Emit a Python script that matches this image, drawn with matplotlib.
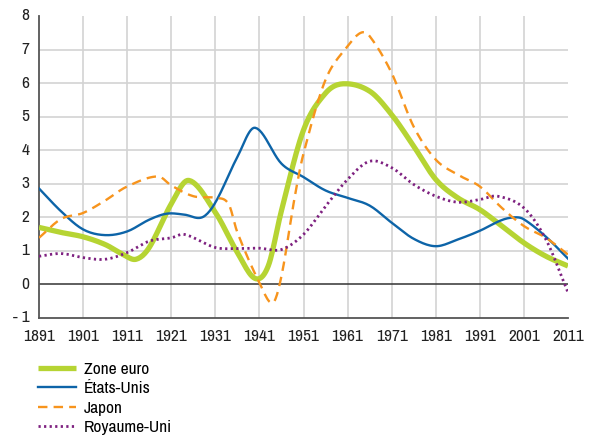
import numpy as np
import matplotlib
matplotlib.use("Agg")
import matplotlib.pyplot as plt
from matplotlib import font_manager

# ---------------- data ----------------
years_ze = [1891, 1896, 1901, 1906, 1910, 1913, 1916, 1921, 1925, 1931, 1936, 1940, 1943,
            1946, 1951, 1956, 1960, 1966, 1971, 1976, 1981, 1986, 1991, 1996, 2001, 2006, 2011]
zone_euro = [1.70, 1.55, 1.42, 1.19, 0.90, 0.75, 1.10, 2.40, 3.10, 2.15, 0.95, 0.18, 0.55,
             2.20, 4.60, 5.70, 5.98, 5.76, 5.06, 4.12, 3.13, 2.58, 2.23, 1.74, 1.24, 0.84, 0.55]

years_us = [1891, 1896, 1901, 1906, 1911, 1916, 1920, 1924, 1928, 1931, 1936, 1940, 1946,
            1951, 1956, 1961, 1966, 1971, 1976, 1981, 1986, 1991, 1996, 1999, 2001, 2006, 2011]
etats_unis = [2.86, 2.18, 1.64, 1.47, 1.58, 1.93, 2.11, 2.08, 2.00, 2.44, 3.80, 4.67, 3.60,
              3.20, 2.80, 2.58, 2.35, 1.84, 1.36, 1.14, 1.34, 1.60, 1.92, 2.00, 1.94, 1.42, 0.77]

years_jp = [1891, 1896, 1901, 1906, 1911, 1918, 1921, 1926, 1931, 1934, 1936, 1941, 1944,
            1946, 1949, 1951, 1956, 1961, 1964, 1966, 1971, 1976, 1981, 1986, 1991, 1996,
            2001, 2006, 2011]
japon = [1.39, 1.95, 2.13, 2.50, 2.92, 3.22, 2.95, 2.63, 2.58, 2.40, 1.55, 0.05, -0.55,
         0.25, 2.60, 3.90, 6.10, 7.10, 7.50, 7.40, 6.30, 4.70, 3.72, 3.27, 2.92, 2.28,
         1.74, 1.39, 0.89]

years_uk = [1891, 1896, 1901, 1906, 1911, 1916, 1921, 1924, 1931, 1936, 1941, 1946, 1951,
            1956, 1961, 1966, 1971, 1976, 1981, 1986, 1991, 1995, 2001, 2006, 2011]
royaume_uni = [0.84, 0.92, 0.80, 0.75, 0.95, 1.29, 1.39, 1.49, 1.10, 1.07, 1.08, 1.04, 1.49,
               2.33, 3.13, 3.67, 3.48, 2.98, 2.63, 2.45, 2.53, 2.63, 2.28, 1.34, -0.24]

x_ticks = list(range(1891, 2012, 10))
y_ticks = list(range(-1, 9))
y_tick_labels = ["- 1", "0", "1", "2", "3", "4", "5", "6", "7", "8"]
labels = ["Zone euro", "États-Unis", "Japon", "Royaume-Uni"]

# ---------------- style ----------------
available = {f.name for f in font_manager.fontManager.ttflist}
fams = [f for f in ["Archivo Narrow", "Roboto Condensed", "PT Sans Narrow"] if f in available]
plt.rcParams["font.family"] = fams[:1] + ["DejaVu Sans"]
FS = 12.5


def smooth(xs, ys, n=12):
    """Draw-time smoothing (cubic Hermite through the given points)."""
    xs = np.asarray(xs, float)
    ys = np.asarray(ys, float)
    m = np.zeros_like(ys)
    m[1:-1] = (ys[2:] - ys[:-2]) / (xs[2:] - xs[:-2])
    m[0] = (ys[1] - ys[0]) / (xs[1] - xs[0])
    m[-1] = (ys[-1] - ys[-2]) / (xs[-1] - xs[-2])
    ox, oy = [], []
    for i in range(len(xs) - 1):
        h = xs[i + 1] - xs[i]
        t = np.linspace(0, 1, n, endpoint=False)
        h00 = 2 * t**3 - 3 * t**2 + 1
        h10 = t**3 - 2 * t**2 + t
        h01 = -2 * t**3 + 3 * t**2
        h11 = t**3 - t**2
        ox.extend(xs[i] + t * h)
        oy.extend(h00 * ys[i] + h10 * h * m[i] + h01 * ys[i + 1] + h11 * h * m[i + 1])
    ox.append(xs[-1])
    oy.append(ys[-1])
    return np.array(ox), np.array(oy)


fig = plt.figure(figsize=(5.89, 4.37), dpi=100)
ax = fig.add_axes([39 / 589, 1 - 318 / 437, (568 - 39) / 589, (318 - 16) / 437])

ax.set_xlim(1891, 2011)
ax.set_ylim(-1, 8)

# grid
for yv in range(1, 8):
    ax.axhline(yv, color="#d3d3d3", lw=1.2, zorder=0)
for xv in x_ticks[1:-1]:
    ax.axvline(xv, color="#d3d3d3", lw=1.2, zorder=0)
ax.axhline(0, color="#333333", lw=1.1, zorder=1)

colors = ["#b6d433", "#0d64a8", "#f7941d", "#7e2180"]

x, y = smooth(years_ze, zone_euro)
ax.plot(x, y, color=colors[0], lw=3.8, solid_capstyle="butt", label=labels[0], zorder=3)
x, y = smooth(years_us, etats_unis)
ax.plot(x, y, color=colors[1], lw=1.7, label=labels[1], zorder=4)
x, y = smooth(years_jp, japon)
ax.plot(x, y, color=colors[2], lw=1.7, dashes=(4, 2.6), label=labels[2], zorder=5)
x, y = smooth(years_uk, royaume_uni)
ax.plot(x, y, color=colors[3], lw=2.0, dashes=(0.8, 1.2), label=labels[3], zorder=6)

for s in ["top", "right"]:
    ax.spines[s].set_visible(False)
for s in ["left", "bottom"]:
    ax.spines[s].set_color("#555555")
    ax.spines[s].set_linewidth(1.3)

ax.set_xticks(x_ticks)
ax.set_xticklabels([str(v) for v in x_ticks])
ax.set_yticks(y_ticks)
ax.set_yticklabels(y_tick_labels)
ax.tick_params(axis="both", length=0, labelsize=FS, colors="#222222")
ax.tick_params(axis="y", pad=7)
ax.tick_params(axis="x", pad=8)
for lab in ax.get_yticklabels():
    lab.set_verticalalignment("center")

handles, labs = ax.get_legend_handles_labels()
fig.legend(handles, labs, loc="upper left", bbox_to_anchor=(31 / 589, 1 - 355 / 437),
           frameon=False, fontsize=FS, handlelength=2.2, handletextpad=0.46,
           labelspacing=0.24, borderpad=0.4, borderaxespad=0.0)

fig.savefig("out.png", dpi=100)
